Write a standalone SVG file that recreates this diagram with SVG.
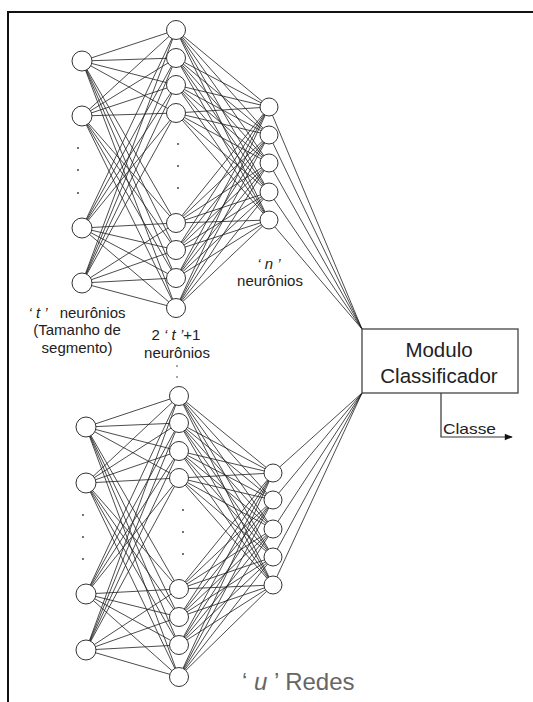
<svg xmlns="http://www.w3.org/2000/svg" width="533" height="702" viewBox="0 0 533 702">
  <style>
    .frame { fill: none; stroke: #111; stroke-width: 2; }
    .wire { fill: none; stroke: #1e1e1e; stroke-width: 0.8; }
    .node { fill: #fff; stroke: #333; stroke-width: 1; }
    .dot { fill: #333; }
    .lbl { font-family: "Liberation Sans", Arial, sans-serif; font-size: 15px; fill: #222; text-anchor: middle; }
    .big { font-family: "Liberation Sans", Arial, sans-serif; font-size: 20.5px; fill: #222; text-anchor: middle; }
    .it { font-style: italic; }
    .box { fill: #fff; stroke: #444; stroke-width: 1.3; }
  </style>
  <defs>
    <marker id="arrow" viewBox="0 0 10 10" refX="9" refY="5" markerWidth="10" markerHeight="8" markerUnits="userSpaceOnUse" orient="auto">
      <path d="M0 1L10 5L0 9Z" fill="#111"/>
    </marker>
  </defs>

  <rect width="533" height="702" fill="#fff"/>
  <path class="frame" d="M8 702V12H533"/>

  <!-- connectors -->
  <g id="connectors">
    <!-- upper network: input to hidden -->
    <path class="wire" d="M82 61L176 30M82 61L176 58M82 61L176 85M82 61L176 113M82 61L176 223M82 61L176 250M82 61L176 278M82 61L176 308
      M82 116L176 30M82 116L176 58M82 116L176 85M82 116L176 113M82 116L176 223M82 116L176 250M82 116L176 278M82 116L176 308
      M82 228L176 30M82 228L176 58M82 228L176 85M82 228L176 113M82 228L176 223M82 228L176 250M82 228L176 278M82 228L176 308
      M82 283L176 30M82 283L176 58M82 283L176 85M82 283L176 113M82 283L176 223M82 283L176 250M82 283L176 278M82 283L176 308"/>
    <!-- upper network: hidden to output -->
    <path class="wire" d="M176 30L269 107M176 30L269 135M176 30L269 163M176 30L269 192M176 30L269 220
      M176 58L269 107M176 58L269 135M176 58L269 163M176 58L269 192M176 58L269 220
      M176 85L269 107M176 85L269 135M176 85L269 163M176 85L269 192M176 85L269 220
      M176 113L269 107M176 113L269 135M176 113L269 163M176 113L269 192M176 113L269 220
      M176 223L269 107M176 223L269 135M176 223L269 163M176 223L269 192M176 223L269 220
      M176 250L269 107M176 250L269 135M176 250L269 163M176 250L269 192M176 250L269 220
      M176 278L269 107M176 278L269 135M176 278L269 163M176 278L269 192M176 278L269 220
      M176 308L269 107M176 308L269 135M176 308L269 163M176 308L269 192M176 308L269 220"/>
    <!-- upper network: output to classifier -->
    <path class="wire" d="M269 107L362 329M269 135L362 329M269 163L362 329M269 192L362 329M269 220L362 329"/>

    <!-- lower network: input to hidden -->
    <path class="wire" d="M86 427L179 396M86 427L179 423M86 427L179 451M86 427L179 478M86 427L179 589M86 427L179 617M86 427L179 645M86 427L179 677
      M86 483L179 396M86 483L179 423M86 483L179 451M86 483L179 478M86 483L179 589M86 483L179 617M86 483L179 645M86 483L179 677
      M86 594L179 396M86 594L179 423M86 594L179 451M86 594L179 478M86 594L179 589M86 594L179 617M86 594L179 645M86 594L179 677
      M86 650L179 396M86 650L179 423M86 650L179 451M86 650L179 478M86 650L179 589M86 650L179 617M86 650L179 645M86 650L179 677"/>
    <!-- lower network: hidden to output -->
    <path class="wire" d="M179 396L273 473M179 396L273 500M179 396L273 529M179 396L273 557M179 396L273 585
      M179 423L273 473M179 423L273 500M179 423L273 529M179 423L273 557M179 423L273 585
      M179 451L273 473M179 451L273 500M179 451L273 529M179 451L273 557M179 451L273 585
      M179 478L273 473M179 478L273 500M179 478L273 529M179 478L273 557M179 478L273 585
      M179 589L273 473M179 589L273 500M179 589L273 529M179 589L273 557M179 589L273 585
      M179 617L273 473M179 617L273 500M179 617L273 529M179 617L273 557M179 617L273 585
      M179 645L273 473M179 645L273 500M179 645L273 529M179 645L273 557M179 645L273 585
      M179 677L273 473M179 677L273 500M179 677L273 529M179 677L273 557M179 677L273 585"/>
    <!-- lower network: output to classifier -->
    <path class="wire" d="M273 473L362 393M273 500L362 393M273 529L362 393M273 557L362 393M273 585L362 393"/>

    <!-- classifier output -->
    <path d="M441 393V437H512" fill="none" stroke="#333" stroke-width="1.2" marker-end="url(#arrow)"/>
  </g>

  <!-- upper network nodes -->
  <g id="upper-input">
    <g id="u-in-1"><circle class="node" cx="82" cy="61" r="10"/></g>
    <g id="u-in-2"><circle class="node" cx="82" cy="116" r="10"/></g>
    <g id="u-in-3"><circle class="node" cx="82" cy="228" r="10"/></g>
    <g id="u-in-4"><circle class="node" cx="82" cy="283" r="10"/></g>
    <circle class="dot" cx="78" cy="148" r="0.9"/>
    <circle class="dot" cx="78" cy="170" r="0.9"/>
    <circle class="dot" cx="78" cy="193" r="0.9"/>
  </g>
  <g id="upper-hidden">
    <g id="u-hid-1"><circle class="node" cx="176" cy="30" r="9.5"/></g>
    <g id="u-hid-2"><circle class="node" cx="176" cy="58" r="9.5"/></g>
    <g id="u-hid-3"><circle class="node" cx="176" cy="85" r="9.5"/></g>
    <g id="u-hid-4"><circle class="node" cx="176" cy="113" r="9.5"/></g>
    <g id="u-hid-5"><circle class="node" cx="176" cy="223" r="9.5"/></g>
    <g id="u-hid-6"><circle class="node" cx="176" cy="250" r="9.5"/></g>
    <g id="u-hid-7"><circle class="node" cx="176" cy="278" r="9.5"/></g>
    <g id="u-hid-8"><circle class="node" cx="176" cy="308" r="9.5"/></g>
    <circle class="dot" cx="178" cy="144" r="0.9"/>
    <circle class="dot" cx="178" cy="166" r="0.9"/>
    <circle class="dot" cx="178" cy="188" r="0.9"/>
  </g>
  <g id="upper-output">
    <g id="u-out-1"><circle class="node" cx="269" cy="107" r="9"/></g>
    <g id="u-out-2"><circle class="node" cx="269" cy="135" r="9"/></g>
    <g id="u-out-3"><circle class="node" cx="269" cy="163" r="9"/></g>
    <g id="u-out-4"><circle class="node" cx="269" cy="192" r="9"/></g>
    <g id="u-out-5"><circle class="node" cx="269" cy="220" r="9"/></g>
  </g>

  <!-- lower network nodes -->
  <g id="lower-input">
    <g id="l-in-1"><circle class="node" cx="86" cy="427" r="10"/></g>
    <g id="l-in-2"><circle class="node" cx="86" cy="483" r="10"/></g>
    <g id="l-in-3"><circle class="node" cx="86" cy="594" r="10"/></g>
    <g id="l-in-4"><circle class="node" cx="86" cy="650" r="10"/></g>
    <circle class="dot" cx="83" cy="515" r="0.9"/>
    <circle class="dot" cx="83" cy="537" r="0.9"/>
    <circle class="dot" cx="83" cy="559" r="0.9"/>
  </g>
  <g id="lower-hidden">
    <g id="l-hid-1"><circle class="node" cx="179" cy="396" r="9.5"/></g>
    <g id="l-hid-2"><circle class="node" cx="179" cy="423" r="9.5"/></g>
    <g id="l-hid-3"><circle class="node" cx="179" cy="451" r="9.5"/></g>
    <g id="l-hid-4"><circle class="node" cx="179" cy="478" r="9.5"/></g>
    <g id="l-hid-5"><circle class="node" cx="179" cy="589" r="9.5"/></g>
    <g id="l-hid-6"><circle class="node" cx="179" cy="617" r="9.5"/></g>
    <g id="l-hid-7"><circle class="node" cx="179" cy="645" r="9.5"/></g>
    <g id="l-hid-8"><circle class="node" cx="179" cy="677" r="9.5"/></g>
    <circle class="dot" cx="183" cy="510" r="0.9"/>
    <circle class="dot" cx="183" cy="532" r="0.9"/>
    <circle class="dot" cx="183" cy="554" r="0.9"/>
  </g>
  <g id="lower-output">
    <g id="l-out-1"><circle class="node" cx="273" cy="473" r="9"/></g>
    <g id="l-out-2"><circle class="node" cx="273" cy="500" r="9"/></g>
    <g id="l-out-3"><circle class="node" cx="273" cy="529" r="9"/></g>
    <g id="l-out-4"><circle class="node" cx="273" cy="557" r="9"/></g>
    <g id="l-out-5"><circle class="node" cx="273" cy="585" r="9"/></g>
  </g>

  <!-- classifier -->
  <g id="classifier">
    <rect class="box" x="362" y="329" width="156" height="64"/>
    <text class="big" x="439" y="357">Modulo</text>
    <text class="big" x="439" y="383">Classificador</text>
  </g>
  <text x="443" y="434" font-family="Liberation Sans, Arial, sans-serif" font-size="15" fill="#222" textLength="53" lengthAdjust="spacingAndGlyphs">Classe</text>

  <!-- layer labels -->
  <text class="lbl" x="77" y="318"><tspan class="it">‘ t ’</tspan><tspan dx="12">neurônios</tspan></text>
  <text class="lbl" x="77" y="335">(Tamanho de</text>
  <text class="lbl" x="77" y="353">segmento)</text>

  <text class="lbl" x="176" y="340">2 <tspan class="it">‘ t ’</tspan>+1</text>
  <text class="lbl" x="177" y="358">neurônios</text>
  <circle class="dot" cx="177" cy="366" r="0.8"/>
  <circle class="dot" cx="177" cy="377" r="0.8"/>

  <text class="lbl it" x="269" y="269">‘ n ’</text>
  <text class="lbl" x="270" y="286">neurônios</text>

  <text x="242" y="690" font-family="Liberation Sans, Arial, sans-serif" font-size="24" fill="#666">‘ <tspan font-style="italic">u</tspan> ’ Redes</text>
</svg>
